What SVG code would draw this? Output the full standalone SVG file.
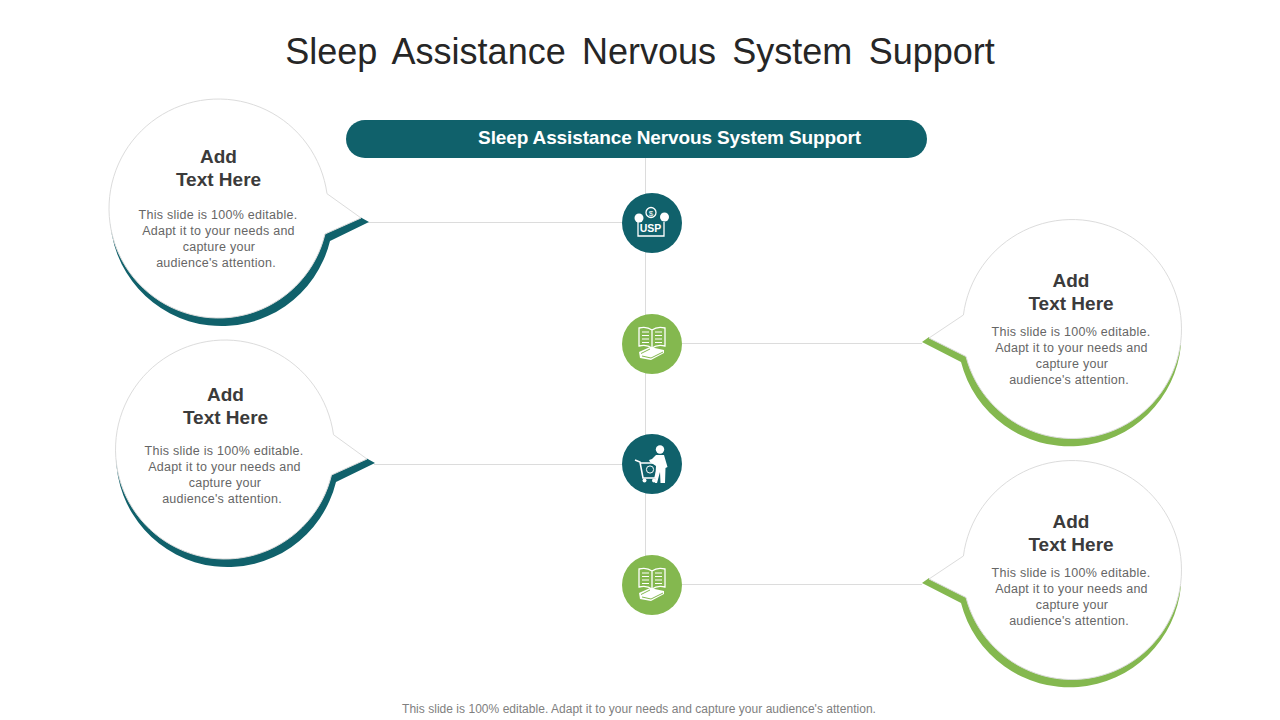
<svg xmlns="http://www.w3.org/2000/svg" width="1280" height="720" viewBox="0 0 1280 720">
<style>
text{font-family:"Liberation Sans",Arial,sans-serif;text-anchor:middle}
.title{font-size:36px;fill:#262626;word-spacing:6.300px}
.bar{font-size:19px;font-weight:bold;fill:#fff;letter-spacing:-.13px}
.h{font-size:19px;font-weight:bold;fill:#3b3b3b}
.b{font-size:12.500px;fill:#666;letter-spacing:.26px}
.note{font-size:12px;fill:#808080;letter-spacing:.03px}
.bubble{fill:#fff;stroke:#dcdcdc;stroke-width:1}
.ln{stroke:#dcdcdc;stroke-width:1;fill:none}
.teal{fill:#10616b}
.green{fill:#84b84f}
.w{fill:#fff}
.wl{fill:none;stroke:#fff;stroke-width:1.300}
</style>
<defs>
<g id="book">
<path class="wl" d="M652,330C648,327 643,327 639,328V346C643,345 648,345 652,348C656,345 661,345 665,346V328C661,327 656,327 652,330ZM652,330V348"/>
<path class="wl" d="M642,332H649M642,335.500H649M642,339H649M642,342.500H649M655,332H662M655,335.500H662M655,339H662M655,342.500H662" style="stroke-width:1"/>
<path class="w" d="M639,352L650,347L664,350V353L651,360L640,358Z"/>
<path d="M641,353.500L650,349M642,356L651,358L663,352" stroke="#84b84f" fill="none" stroke-width="1"/>
</g>
</defs>
<text class="title" x="640" y="64">Sleep Assistance Nervous System Support</text>
<g id="connectors">
<path class="ln" d="M645.500,158V585M368,222.500H622M682,343.500H922M374,464.500H622M682,584.500H922"/>
</g>
<g id="header">
<rect class="teal" x="346" y="120" width="581" height="38" rx="19"/>
<text class="bar" x="669.500" y="144">Sleep Assistance Nervous System Support</text>
</g>
<g id="bubble-1">
<path class="teal" d="M110,215A111.600,111.600 0 0 0 330,241L369,222L360,217L325,233Z"/>
<path class="bubble" d="M327,193.700A109.500,109.500 0 1 0 325,234L361,218Z"/>
<text class="h" x="218.500" y="163">Add</text>
<text class="h" x="218.500" y="186">Text Here</text>
<text class="b" x="218" y="219">This slide is 100% editable.</text>
<text class="b" x="218.500" y="235">Adapt it to your needs and</text>
<text class="b" x="219" y="251">capture your</text>
<text class="b" x="216" y="267">audience's attention.</text>
</g>
<g id="bubble-2">
<path class="teal" d="M116,456A111.600,111.600 0 0 0 336,482L375,463L366,458L331.500,474Z"/>
<path class="bubble" d="M333.500,434.700A109.500,109.500 0 1 0 331.500,475L367,459Z"/>
<text class="h" x="225.500" y="401">Add</text>
<text class="h" x="225.500" y="424">Text Here</text>
<text class="b" x="224" y="455">This slide is 100% editable.</text>
<text class="b" x="224.500" y="471">Adapt it to your needs and</text>
<text class="b" x="225" y="487">capture your</text>
<text class="b" x="222" y="503">audience's attention.</text>
</g>
<g id="bubble-3">
<path class="green" d="M1181,345A112,112 0 0 1 961,362L922,342L929,337L966,355Z"/>
<path class="bubble" d="M963.400,315A109.500,109.500 0 1 1 966,356.500L929,338Z"/>
<text class="h" x="1071" y="287">Add</text>
<text class="h" x="1071" y="310">Text Here</text>
<text class="b" x="1071" y="336">This slide is 100% editable.</text>
<text class="b" x="1071.500" y="352">Adapt it to your needs and</text>
<text class="b" x="1072" y="368">capture your</text>
<text class="b" x="1069" y="384">audience's attention.</text>
</g>
<g id="bubble-4">
<path class="green" d="M1181,586A112,112 0 0 1 961,603L922,583L929,578L966,596Z"/>
<path class="bubble" d="M963.400,556A109.500,109.500 0 1 1 966,597.500L929,579Z"/>
<text class="h" x="1071" y="528">Add</text>
<text class="h" x="1071" y="551">Text Here</text>
<text class="b" x="1071" y="577">This slide is 100% editable.</text>
<text class="b" x="1071.500" y="593">Adapt it to your needs and</text>
<text class="b" x="1072" y="609">capture your</text>
<text class="b" x="1069" y="625">audience's attention.</text>
</g>
<g id="icon-usp">
<circle class="teal" cx="652" cy="223" r="30"/>
<path class="wl" d="M638,222V236H664V222"/>
<text x="650.500" y="232" style="font-size:10.500px;font-weight:bold;fill:#fff">USP</text>
<circle class="wl" cx="651" cy="212.500" r="5"/>
<text x="651" y="215.500" style="font-size:8px;fill:#fff">$</text>
<circle class="w" cx="639" cy="218" r="4.500"/>
<circle class="w" cx="664.500" cy="217" r="4.500"/>
</g>
<g id="icon-book-1">
<circle class="green" cx="652" cy="344" r="30"/>
<use href="#book"/>
</g>
<g id="icon-cart">
<circle class="teal" cx="652" cy="464" r="30"/>
<circle class="w" cx="660" cy="449.500" r="4.200"/>
<path class="w" d="M656,455H664L667.500,467L665.500,468L665,483H660.500L660,472L657,483H655L656,466L650,462L649,460L652,459Z"/>
<path class="wl" d="M635,460L640,462L643,478H655L659,463H640.500" style="stroke-width:1.600"/>
<circle class="w" cx="644.500" cy="480.500" r="2"/>
<circle class="w" cx="654" cy="480.500" r="2"/>
<circle cx="650" cy="469.500" r="3.600" fill="none" stroke="#fff" stroke-width="1"/>
</g>
<g id="icon-book-2" transform="translate(0,241)">
<circle class="green" cx="652" cy="344" r="30"/>
<use href="#book"/>
</g>
<text class="note" x="639" y="713">This slide is 100% editable. Adapt it to your needs and capture your audience's attention.</text>
</svg>
